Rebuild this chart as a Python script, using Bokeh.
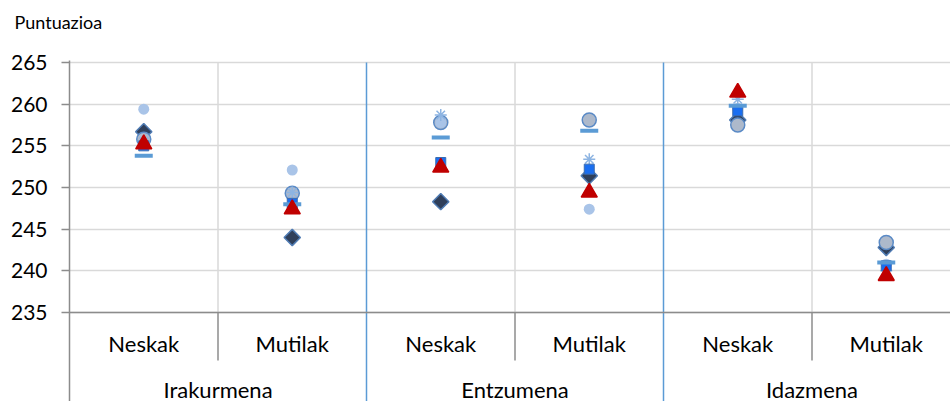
import math
from bokeh.plotting import figure
from bokeh.models import Range1d, FixedTicker, Title
from bokeh.core.properties import value
from bokeh.embed import file_html
from bokeh.resources import INLINE

# ---- data ----
groups = ["Irakurmena", "Entzumena", "Idazmena"]
subcats = ["Neskak", "Mutilak"]
y_ticks = [235, 240, 245, 250, 255, 260, 265]
y_title = "Puntuazioa"

light_circle = [259.4, 252.1, 257.8, 247.4, 259.5, 240.8]
diamond = [256.7, 244.0, 248.3, 251.4, 258.1, 242.8]
circle = [255.8, 249.3, 257.8, 258.1, 257.5, 243.4]
star = [255.5, 249.4, 258.7, 253.4, 260.6, 240.0]
square = [255.0, 248.1, 253.0, 252.2, 259.2, 240.6]
dash = [253.8, 248.0, 256.0, 256.8, 259.8, 241.0]
triangle = [255.2, 247.4, 252.4, 249.4, 261.4, 239.4]

FONT = "Lato"
ncat = len(groups) * len(subcats)
xs = [i + 0.5 for i in range(ncat)]
ymin, ymax = y_ticks[0], y_ticks[-1]

p = figure(width=950, height=401, output_backend="svg", toolbar_location=None,
           x_range=Range1d(0, 881 / 148.5), y_range=Range1d(224.32, 265.24),
           min_border_left=69, min_border_right=0, min_border_bottom=0, min_border_top=60,
           x_axis_location=None)
p.outline_line_color = None
p.background_fill_color = "white"

# empty spacer title between the frame and the axis title
p.add_layout(Title(text=" ", text_font_size="10px", standoff=15), "above")

p.title.text = y_title
p.title.text_font = FONT
p.title.text_font_size = "18px"
p.title.text_font_style = "normal"
p.title.text_color = "#000000"
p.title.align = "left"
p.title.offset = -55
p.title.standoff = 0

p.xgrid.visible = False
tk = FixedTicker(ticks=y_ticks, minor_ticks=[])
p.yaxis.ticker = tk
p.ygrid.ticker = tk
p.ygrid.grid_line_color = "#d9d9d9"
p.ygrid.grid_line_width = 1.5
p.yaxis.axis_line_color = "#8c8c8c"
p.yaxis.axis_line_width = 1.5
p.yaxis.major_tick_line_color = "#8c8c8c"
p.yaxis.major_tick_line_width = 1.5
p.yaxis.major_tick_out = 8
p.yaxis.major_tick_in = 0
p.yaxis.minor_tick_line_color = None
p.yaxis.major_label_standoff = 14
p.yaxis.major_label_text_font = FONT
p.yaxis.major_label_text_font_size = "21px"
p.yaxis.major_label_text_color = "#000000"

ybot = 224.32
# separators between sub-categories inside a group
inner = [g * 2 + 1 for g in range(len(groups))]
p.segment(x0=inner, x1=inner, y0=[ymin] * 3, y1=[ymax] * 3, line_color="#d9d9d9", line_width=1.5)
p.segment(x0=inner, x1=inner, y0=[ymin] * 3, y1=[229.25] * 3, line_color="#8c8c8c", line_width=1.5)
# separators between groups
outer = [2 * g for g in range(1, len(groups))]
p.segment(x0=outer, x1=outer, y0=[ymax] * 2, y1=[ybot] * 2, line_color="#5b9bd5", line_width=1.5)
# category axis baseline
p.segment(x0=[0], x1=[ncat], y0=[ymin], y1=[ymin], line_color="#8c8c8c", line_width=1.5)

# category labels
p.text(x=xs, y=[231.3] * ncat, text=subcats * len(groups), text_align="center",
       text_baseline="alphabetic", text_font=value(FONT), text_font_size="22px", text_color="#000000")
p.text(x=[2 * g + 1 for g in range(len(groups))], y=[225.8] * len(groups), text=groups,
       text_align="center", text_baseline="alphabetic", text_font=value(FONT),
       text_font_size="22px", text_color="#000000")

# series markers
p.scatter(xs, diamond, marker="square", angle=math.pi / 4, size=11.5,
          fill_color="#2f3f5a", line_color="#4f7bb3", line_width=1.5)
p.scatter(xs, circle, marker="circle", size=14,
          fill_color="#adb9cb", line_color="#5a8ac6", line_width=1.5)
p.scatter(xs, light_circle, marker="circle", size=11,
          fill_color="#a9c4e8", line_color=None)
p.scatter(xs, star, marker="asterisk", size=12,
          line_color="#8db4e2", line_width=1.5)
p.scatter(xs, square, marker="square", size=10,
          fill_color="#1a6ef0", line_color="#3b6cb0", line_width=1)
p.scatter(xs, dash, marker="dash", size=18,
          line_color="#5b9bd5", line_width=4)
p.scatter(xs, triangle, marker="triangle", size=16,
          fill_color="#c00000", line_color="#c00000", line_width=1.5)

open("out.html", "w").write(file_html(p, INLINE))
